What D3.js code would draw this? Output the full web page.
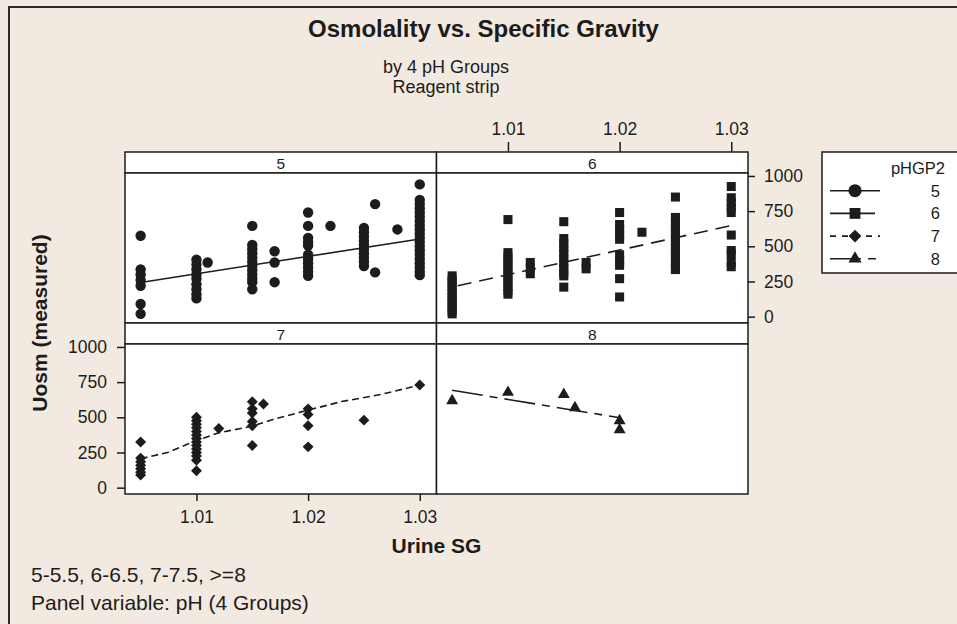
<!DOCTYPE html>
<html>
<head>
<meta charset="utf-8">
<script src="https://cdn.jsdelivr.net/npm/d3@7"></script>
<style>
  body { margin: 0; background: #f2eae1; }
  svg { display: block; font-family: "Liberation Sans", Arial, sans-serif; }
</style>
</head>
<body>
<script>
// ---- data: [specific gravity, values of Uosm] ----
const ph5Groups = [
    [1.005, [575, 335, 300, 260, 220, 90, 20]],
    [1.010, [405, 370, 335, 300, 270, 230, 195, 160, 130]],
    [1.011, [385]],
    [1.015, [645, 510, 480, 450, 420, 390, 360, 330, 300, 270, 245, 195]],
    [1.017, [465, 385, 245]],
    [1.020, [740, 645, 560, 530, 505, 440, 410, 380, 350, 320, 290]],
    [1.022, [645]],
    [1.025, [630, 600, 570, 540, 510, 480, 450, 420, 390, 360]],
    [1.026, [800, 315]],
    [1.028, [620]],
    [1.030, [940, 830, 800, 770, 740, 710, 680, 650, 620, 590, 560, 530, 500, 470, 440, 410, 380, 350, 320, 295]]
];
const ph6Groups = [
    [1.005, [290, 265, 240, 215, 190, 165, 140, 115, 90, 65, 40, 20]],
    [1.010, [690, 455, 425, 395, 365, 335, 305, 275, 245, 215, 185, 160]],
    [1.012, [385, 345, 305]],
    [1.015, [675, 555, 520, 485, 450, 415, 380, 345, 310, 290, 210]],
    [1.017, [385, 340]],
    [1.020, [740, 655, 620, 585, 550, 440, 400, 365, 270, 140]],
    [1.022, [600]],
    [1.025, [850, 705, 670, 635, 600, 565, 530, 495, 460, 425, 390, 355, 335]],
    [1.030, [925, 845, 810, 775, 740, 580, 470, 445, 385, 355]]
];
const ph7Groups = [
    [1.005, [325, 210, 185, 160, 135, 110, 90]],
    [1.010, [500, 475, 450, 425, 400, 375, 350, 325, 300, 275, 250, 225, 195, 120]],
    [1.012, [420]],
    [1.015, [610, 560, 530, 470, 440, 300]],
    [1.016, [595]],
    [1.020, [560, 520, 440, 290]],
    [1.025, [480]],
    [1.030, [730]]
];
const ph8Groups = [
    [1.005, [618]],
    [1.010, [677]],
    [1.015, [662]],
    [1.016, [568]],
    [1.020, [476, 412]]
];

// fitted lines in each panel
const ph5Fit = [[1.005, 243], [1.030, 552]];
const ph6Fit = [[1.0055, 220], [1.030, 648]];
const ph7Fit = [[1.005, 206], [1.0075, 252], [1.010, 335], [1.012, 390], [1.015, 437],
                [1.017, 488], [1.020, 551], [1.023, 612], [1.0265, 662], [1.030, 729]];
const ph8Fit = [[1.005, 692], [1.020, 497]];

const panelLabels = ["5", "6", "7", "8"];
const xTicks = [1.01, 1.02, 1.03];
const yTicks = [0, 250, 500, 750, 1000];

const titleText = "Osmolality vs. Specific Gravity";
const subtitleLines = ["by 4 pH Groups", "Reagent strip"];
const footnoteLines = ["5-5.5, 6-6.5, 7-7.5, >=8", "Panel variable: pH (4 Groups)"];
const legendTitle = "pHGP2";

function flatten(groups) {
    const pts = [];
    groups.forEach(g => g[1].forEach(v => pts.push([g[0], v])));
    return pts;
}

const W = 957, H = 624;
const ink = "#1c1c1c";

const svg = d3.select("body").append("svg")
    .attr("width", W)
    .attr("height", H);

// background + outer frame (right/bottom edges fall outside the picture)
svg.append("rect").attr("width", W).attr("height", H).attr("fill", "#f2eae1");
svg.append("rect")
    .attr("x", 9).attr("y", 7)
    .attr("width", W + 20).attr("height", H + 20)
    .attr("fill", "none")
    .attr("stroke", "#2a2a2a")
    .attr("stroke-width", 2);

// grid of panels
const gridLeft = 125, colW = 311.5;
const gridTop = 152, stripH = 21, plotH = 150;
const rowH = stripH + plotH;

const x = d3.scaleLinear().domain([1.0036, 1.0315]).range([0, colW]);
const y = d3.scaleLinear().domain([-45, 1021]).range([plotH, 0]);

const symbols = [
    { type: d3.symbolCircle, size: 85, rot: 0, lsize: 135 },
    { type: d3.symbolSquare, size: 82, rot: 0, lsize: 118 },
    { type: d3.symbolSquare, size: 60, rot: 45, lsize: 82 },
    { type: d3.symbolTriangle, size: 62, rot: 0, lsize: 75 }
];
const panelDash = [null, "14,8", "7,4", "31,7,8,7"];
const legendDash = [null, null, "6,6", "31,7,8,7"];
const legendLen = [50, 45, 50, 46];

const panels = [
    { points: flatten(ph5Groups), fit: ph5Fit },
    { points: flatten(ph6Groups), fit: ph6Fit },
    { points: flatten(ph7Groups), fit: ph7Fit },
    { points: flatten(ph8Groups), fit: ph8Fit }
];

const line = d3.line().x(d => x(d[0])).y(d => y(d[1]));

panels.forEach((p, i) => {
    const col = i % 2, row = Math.floor(i / 2);
    const g = svg.append("g")
        .attr("transform", `translate(${gridLeft + col * colW}, ${gridTop + row * rowH})`);

    // strip with the panel label
    g.append("rect")
        .attr("width", colW).attr("height", stripH)
        .attr("fill", "white").attr("stroke", ink).attr("stroke-width", 1.5);
    g.append("text")
        .attr("x", colW / 2).attr("y", stripH - 4)
        .attr("text-anchor", "middle")
        .attr("font-size", 15.5)
        .attr("fill", ink)
        .text(panelLabels[i]);

    const plot = g.append("g").attr("transform", `translate(0, ${stripH})`);
    plot.append("rect")
        .attr("width", colW).attr("height", plotH)
        .attr("fill", "white").attr("stroke", ink).attr("stroke-width", 1.5);

    // fitted line
    plot.append("path")
        .datum(p.fit)
        .attr("d", line)
        .attr("fill", "none")
        .attr("stroke", ink)
        .attr("stroke-width", 1.6)
        .attr("stroke-dasharray", panelDash[i]);

    // points
    const s = symbols[i];
    plot.selectAll(".pt")
        .data(p.points)
        .enter()
        .append("path")
        .attr("class", "pt")
        .attr("d", d3.symbol().type(s.type).size(s.size))
        .attr("transform", d => `translate(${x(d[0])}, ${y(d[1])}) rotate(${s.rot})`)
        .attr("fill", ink);
});

// axes
function styleAxis(sel) {
    sel.select(".domain").remove();
    sel.selectAll("line").attr("stroke", ink).attr("stroke-width", 1.5);
    sel.selectAll("text").attr("font-size", 17.5).attr("fill", ink).attr("font-family", "Liberation Sans, Arial, sans-serif");
}
const fmtX = d3.format(".2f");
const fmtY = d3.format("d");

// left axis on the lower-left panel
svg.append("g")
    .attr("transform", `translate(${gridLeft}, ${gridTop + rowH + stripH})`)
    .call(d3.axisLeft(y).tickValues(yTicks).tickFormat(fmtY).tickSize(8).tickPadding(10))
    .call(styleAxis);

// right axis on the upper-right panel
svg.append("g")
    .attr("transform", `translate(${gridLeft + 2 * colW}, ${gridTop + stripH})`)
    .call(d3.axisRight(y).tickValues(yTicks).tickFormat(fmtY).tickSize(7).tickPadding(9))
    .call(styleAxis);

// bottom axis under the lower-left panel
svg.append("g")
    .attr("transform", `translate(${gridLeft}, ${gridTop + 2 * rowH})`)
    .call(d3.axisBottom(x).tickValues(xTicks).tickFormat(fmtX).tickSize(7).tickPadding(10))
    .call(styleAxis);

// top axis above the upper-right panel
svg.append("g")
    .attr("transform", `translate(${gridLeft + colW}, ${gridTop})`)
    .call(d3.axisTop(x).tickValues(xTicks).tickFormat(fmtX).tickSize(10).tickPadding(7))
    .call(styleAxis);

// titles
svg.append("text")
    .attr("x", 483.5).attr("y", 37)
    .attr("text-anchor", "middle")
    .attr("font-size", 24).attr("font-weight", "bold").attr("fill", ink)
    .text(titleText);

svg.selectAll(".subtitle")
    .data(subtitleLines)
    .enter()
    .append("text")
    .attr("class", "subtitle")
    .attr("x", 446).attr("y", (d, i) => 73 + i * 19.5)
    .attr("text-anchor", "middle")
    .attr("font-size", 18).attr("fill", ink)
    .text(d => d);

// axis labels
svg.append("text")
    .attr("transform", `translate(47, ${gridTop + rowH}) rotate(-90)`)
    .attr("text-anchor", "middle")
    .attr("font-size", 21).attr("font-weight", "bold").attr("fill", ink)
    .text("Uosm (measured)");

svg.append("text")
    .attr("x", gridLeft + colW).attr("y", 553)
    .attr("text-anchor", "middle")
    .attr("font-size", 21).attr("font-weight", "bold").attr("fill", ink)
    .text("Urine SG");

// footnotes
svg.selectAll(".foot")
    .data(footnoteLines)
    .enter()
    .append("text")
    .attr("class", "foot")
    .attr("x", 31).attr("y", (d, i) => 582 + i * 27.5)
    .attr("font-size", 21).attr("fill", ink)
    .text(d => d);

// legend
const lg = svg.append("g").attr("transform", "translate(822, 152)");
lg.append("rect")
    .attr("width", 140).attr("height", 121)
    .attr("fill", "white").attr("stroke", ink).attr("stroke-width", 1.5);
lg.append("text")
    .attr("x", 123).attr("y", 22)
    .attr("text-anchor", "end")
    .attr("font-size", 16.5).attr("fill", ink)
    .text(legendTitle);

const items = lg.selectAll(".item")
    .data(panelLabels)
    .enter()
    .append("g")
    .attr("class", "item")
    .attr("transform", (d, i) => `translate(0, ${38.7 + i * 22.7})`);

items.append("line")
    .attr("x1", 8).attr("x2", (d, i) => 8 + legendLen[i])
    .attr("stroke", ink).attr("stroke-width", 1.6)
    .attr("stroke-dasharray", (d, i) => legendDash[i]);

items.append("path")
    .attr("d", (d, i) => d3.symbol().type(symbols[i].type).size(symbols[i].lsize)())
    .attr("transform", (d, i) => `translate(33, 0) rotate(${symbols[i].rot})`)
    .attr("fill", ink);

items.append("text")
    .attr("x", 118).attr("y", 6)
    .attr("text-anchor", "end")
    .attr("font-size", 16.5).attr("fill", ink)
    .text(d => d);
</script>
</body>
</html>
